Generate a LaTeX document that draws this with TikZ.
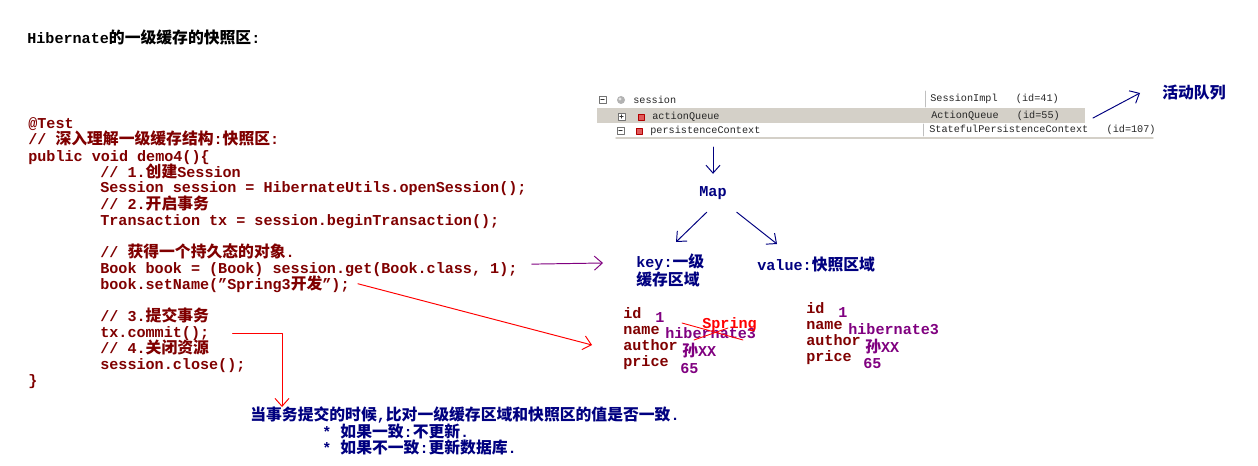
\documentclass[tikz,border=0pt]{standalone}
\usepackage{fontspec}
\setmainfont{Liberation Mono}
\newfontfamily\cjk{Noto Sans CJK SC}
\usetikzlibrary{arrows.meta}

\definecolor{codered}{HTML}{800000}
\definecolor{navyblue}{HTML}{000080}
\definecolor{valpurple}{HTML}{800080}
\definecolor{bandgray}{HTML}{D4D0C8}
\definecolor{iconred}{HTML}{E05A5A}

% Chinese text inside the mono lines
\newcommand{\zh}[1]{{\cjk\fontsize{9}{10}\selectfont#1}}

\tikzset{
  code/.style={anchor=base west, inner sep=0pt, text=codered, font=\fontsize{8.6}{10}\selectfont\bfseries},
  note/.style={anchor=base west, inner sep=0pt, text=navyblue, font=\fontsize{8.6}{10}\selectfont\bfseries},
  fld/.style={anchor=base west, inner sep=0pt, text=codered, font=\fontsize{8.6}{10}\selectfont\bfseries},
  val/.style={anchor=base west, inner sep=0pt, text=valpurple, font=\fontsize{8.6}{10}\selectfont\bfseries},
  dbg/.style={anchor=west, inner sep=0pt, text=black!85, font=\fontsize{5.8}{6}\selectfont},
  tip/.style={-{Straight Barb[length=4.5pt,width=8pt]}, line width=0.55pt},
  bluearrow/.style={tip, navyblue},
  redarrow/.style={tip, red},
  purarrow/.style={tip, valpurple},
}

\begin{document}
\begin{tikzpicture}[x=0.02cm, y=-0.02cm, line cap=round, line join=round]

  % page
  \fill[white] (0,0) rectangle (1258,466);
  \useasboundingbox (0,0) rectangle (1258,466);

  % title
  \node[code, text=black] (title) at (27,44) {Hibernate\zh{的一级缓存的快照区}:};

  % the test method
  \node[code] (test)    at (28,129) {@Test};
  \node[code] (cmt)     at (28,145) {// \zh{深入理解一级缓存结构}:\zh{快照区}:};
  \node[code] (sig)     at (28,161) {public void demo4()\{};
  \node[code] (c1)      at (100,177) {// 1.\zh{创建}Session};
  \node[code] (open)    at (100,193) {Session session = HibernateUtils.openSession();};
  \node[code] (c2)      at (100,209) {// 2.\zh{开启事务}};
  \node[code] (begin)   at (100,225) {Transaction tx = session.beginTransaction();};
  \node[code] (c3)      at (100,257) {// \zh{获得一个持久态的对象}.};
  \node[code] (book)    at (100,273) {Book book = (Book) session.get(Book.class, 1);};
  \node[code] (setname) at (100,289) {book.setName("Spring3\zh{开发}");};
  \node[code] (c4)      at (100,321) {// 3.\zh{提交事务}};
  \node[code] (commit)  at (100,337) {tx.commit();};
  \node[code] (c5)      at (100,353) {// 4.\zh{关闭资源}};
  \node[code] (close)   at (100,369) {session.close();};
  \node[code] (brace)   at (28,385) {\}};

  % debugger view of the session
  \fill[bandgray] (597,108) rectangle (1085,123);
  \draw[black!25] (925,91) -- (925,107);
  \draw[black!25] (923,124) -- (923,136);
  \draw[bandgray, line width=0.8pt] (616,138) -- (1153,138);
  % tree icons
  \draw[black!55, fill=white, line width=0.4pt] (599,96) rectangle (606,103);
  \draw[black!80, line width=0.4pt] (600.8,99.5) -- (604.2,99.5);
  \fill[black!30] (621,100) circle (4);
  \fill[black!10] (620,99) circle (1.6);
  \draw[black!55, fill=white, line width=0.4pt] (618,113) rectangle (625,120);
  \draw[black!80, line width=0.4pt] (619.8,116.5) -- (623.2,116.5) (621.5,114.8) -- (621.5,118.2);
  \draw[red!70!black, fill=iconred, line width=0.4pt] (638,114) rectangle (644,120);
  \draw[black!55, fill=white, line width=0.4pt] (617,127) rectangle (624,134);
  \draw[black!80, line width=0.4pt] (618.8,130.5) -- (622.2,130.5);
  \draw[red!70!black, fill=iconred, line width=0.4pt] (636,128) rectangle (642,134);
  % tree texts
  \node[dbg] (sess)  at (633,100) {session};
  \node[dbg] (aq)    at (652,117) {actionQueue};
  \node[dbg] (pc)    at (650,131) {persistenceContext};
  \node[dbg] (sessv) at (930,99)  {SessionImpl~~~(id=41)};
  \node[dbg] (aqv)   at (931,116) {ActionQueue~~~(id=55)};
  \node[dbg] (pcv)   at (929,130) {StatefulPersistenceContext~~~(id=107)};

  % action queue label
  \node[note, anchor=west, font=\bfseries] (active) at (1162,93) {\zh{活动队列}};
  \coordinate (aqend) at (1093,118);
  \draw[bluearrow] (aqend) -- ([shift={(-22,0)}]active.west);

  % map and its two parts
  \node[note, anchor=center, inner sep=7] (map) at (713,193) {Map};
  \coordinate (ctxbot) at (713,147);
  \draw[bluearrow] (ctxbot) -- (map.north);
  \node[note, anchor=north west, align=left, font=\fontsize{8.6}{9}\selectfont\bfseries] (key) at (636,253)
    {key:\zh{一级}\\\zh{缓存区域}};
  \node[note] (value) at (757,270) {value:\zh{快照区域}};
  \coordinate (keytip) at (676,242);
  \coordinate (valtip) at (777,244);
  \draw[bluearrow] (map.-108) -- (keytip);
  \draw[bluearrow] (map.-39) -- (valtip);

  % first level cache (left) and snapshot (right)
  \foreach \t [count=\i] in {id,name,author,price}
    \node[fld] (l\i) at (623,{318+16*(\i-1)}) {\t};
  \foreach \t [count=\i] in {id,name,author,price}
    \node[fld] (r\i) at (806,{313+16.3*(\i-1)}) {\t};
  \node[val] (lid)    at (655,322) {1};
  \node[val] (lname)  at (665,338) {hibernate3};
  \node[val] (lauth)  at (682,356) {\zh{孙}XX};
  \node[val] (lprice) at (680,373) {65};
  \node[val] (rid)    at (838,317) {1};
  \node[val] (rname)  at (848,334) {hibernate3};
  \node[val] (rauth)  at (865,352) {\zh{孙}XX};
  \node[val] (rprice) at (863,368) {65};

  % new name written over the cached one
  \node[val, text=red] (spring) at (702,328) {Spring};
  \draw[red, line width=0.5pt] (682,323) -- (743,340);
  \draw[red, line width=0.5pt] (694,340) -- (728,328);

  % connectors from the code
  \coordinate (keyarr) at (603,263);
  \draw[purarrow] ([shift={(14,-5)}]book.east) -- (keyarr);
  \coordinate (cachein) at (592,345);
  \draw[redarrow] ([shift={(8,0)}]setname.east) -- (cachein);
  \coordinate (commitdn) at (282,407);
  \draw[redarrow] ([shift={(23,0)}]commit.east) -| (commitdn);

  % what commit does
  \node[note] (when) at (250,420) {\zh{当事务提交的时候},\zh{比对一级缓存区域和快照区的值是否一致}.};
  \node[note] (same) at (322,437) {* \zh{如果一致}:\zh{不更新}.};
  \node[note] (diff) at (322,453) {* \zh{如果不一致}:\zh{更新数据库}.};

\end{tikzpicture}
\end{document}
